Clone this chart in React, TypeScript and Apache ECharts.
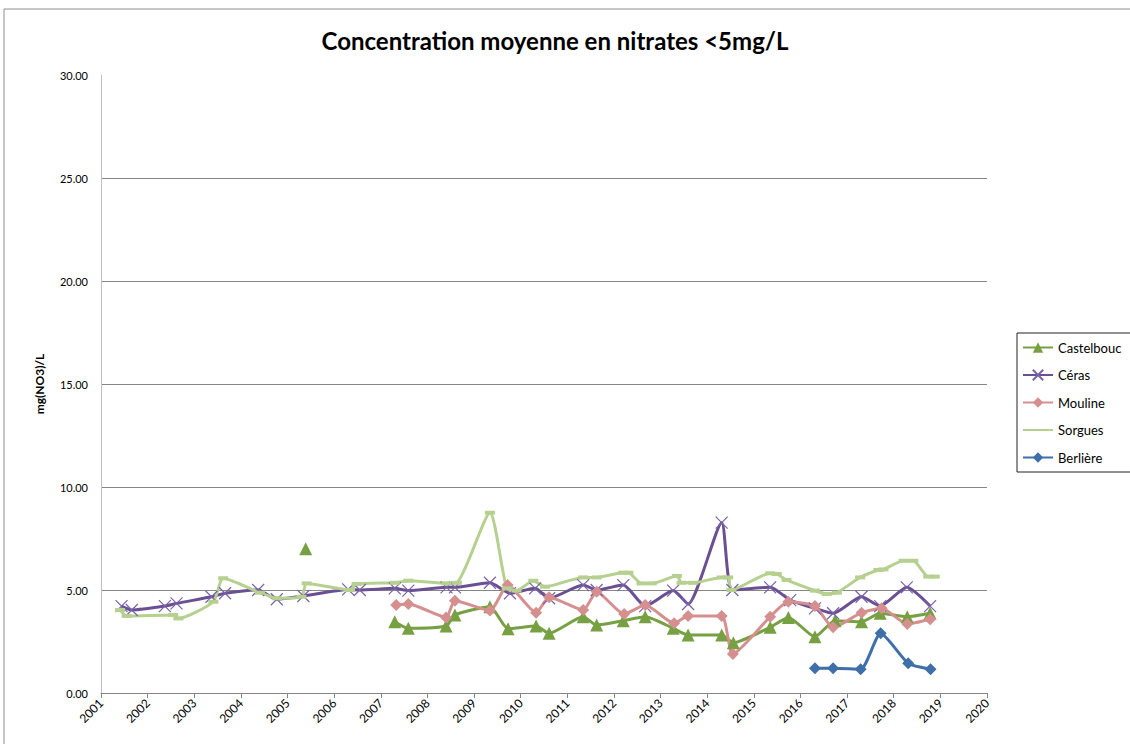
import React, { useEffect, useRef } from "react";
import * as echarts from "echarts";

const title = "Concentration moyenne en nitrates <5mg/L";
const yAxisName = "mg(NO3)/L";
const yTicks = [0, 5, 10, 15, 20, 25, 30];

const castelboucDates = [2005.39, 2006.3, 2007.3, 2007.59, 2008.4, 2008.59, 2009.34, 2009.73, 2010.33, 2010.61, 2011.34, 2011.63, 2012.2, 2012.67, 2013.27, 2013.59, 2014.31, 2014.56, 2015.35, 2015.74, 2016.31, 2016.74, 2017.31, 2017.71, 2018.29, 2018.78];
const castelboucValues = [7.0, null, 3.46, 3.14, 3.25, 3.79, 4.19, 3.12, 3.25, 2.9, 3.7, 3.3, 3.51, 3.7, 3.14, 2.82, 2.82, 2.44, 3.19, 3.67, 2.73, 3.51, 3.46, 3.87, 3.7, 3.87];

const cerasDates = [2001.44, 2001.66, 2002.37, 2002.62, 2003.37, 2003.66, 2004.37, 2004.77, 2005.34, 2006.3, 2006.55, 2007.3, 2007.59, 2008.41, 2008.59, 2009.34, 2009.77, 2010.31, 2010.61, 2011.34, 2011.63, 2012.2, 2012.67, 2013.27, 2013.59, 2014.31, 2014.54, 2015.35, 2015.78, 2016.31, 2016.7, 2017.31, 2017.71, 2018.28, 2018.78];
const cerasValues = [4.22, 4.03, 4.22, 4.35, 4.67, 4.84, 5.0, 4.55, 4.71, 5.03, 5.0, 5.08, 4.97, 5.13, 5.13, 5.35, 4.84, 5.08, 4.6, 5.24, 5.0, 5.24, 4.22, 4.97, 4.32, 8.27, 5.0, 5.13, 4.51, 4.11, 3.87, 4.67, 4.22, 5.13, 4.22];

const moulineDates = [2007.33, 2007.59, 2008.4, 2008.59, 2009.34, 2009.72, 2010.33, 2010.61, 2011.34, 2011.63, 2012.22, 2012.67, 2013.29, 2013.59, 2014.31, 2014.55, 2015.35, 2015.74, 2016.31, 2016.7, 2017.31, 2017.74, 2018.29, 2018.78];
const moulineValues = [4.27, 4.32, 3.67, 4.48, 4.0, 5.24, 3.9, 4.65, 4.03, 4.92, 3.83, 4.27, 3.38, 3.74, 3.74, 1.89, 3.7, 4.43, 4.22, 3.19, 3.9, 4.11, 3.35, 3.58];

const sorguesDates = [2001.41, 2001.55, 2002.55, 2002.66, 2003.41, 2003.62, 2004.41, 2004.77, 2005.3, 2005.41, 2006.34, 2006.48, 2007.3, 2007.59, 2008.41, 2008.63, 2009.34, 2009.7, 2009.91, 2010.27, 2010.52, 2011.34, 2011.63, 2012.2, 2012.31, 2012.59, 2012.81, 2013.35, 2013.45, 2013.7, 2014.31, 2014.45, 2014.52, 2015.35, 2015.49, 2015.7, 2016.31, 2016.56, 2016.78, 2017.28, 2017.67, 2017.78, 2018.21, 2018.42, 2018.74, 2018.88];
const sorguesValues = [4.03, 3.74, 3.79, 3.62, 4.43, 5.57, 4.87, 4.6, 4.67, 5.32, 5.0, 5.29, 5.35, 5.45, 5.32, 5.35, 8.75, 5.08, 4.97, 5.45, 5.16, 5.61, 5.61, 5.84, 5.84, 5.32, 5.32, 5.68, 5.35, 5.35, 5.61, 5.61, 5.0, 5.81, 5.78, 5.49, 4.97, 4.81, 4.87, 5.61, 5.97, 6.0, 6.42, 6.42, 5.65, 5.65];

const berliereDates = [2016.31, 2016.7, 2017.29, 2017.72, 2018.31, 2018.79];
const berliereValues = [1.2, 1.2, 1.15, 2.9, 1.44, 1.15];

const pair = (d: number[], v: (number | null)[]) => d.map((x, i) => [x, v[i] === null ? "-" : v[i]]);

const FONT = "Lato, 'Open Sans', sans-serif";

export default function App() {
  const ref = useRef<HTMLDivElement>(null);
  useEffect(() => {
    document.body.style.margin = "0";
    const chart = echarts.init(ref.current!, null, { renderer: "svg" });
    const smooth = 0.2;
    chart.setOption({
      animation: false,
      backgroundColor: "#fff",
      textStyle: { fontFamily: FONT },
      title: {
        text: title,
        left: 550,
        textAlign: "center",
        top: 23,
        textStyle: { fontFamily: FONT, fontSize: 24, fontWeight: "bold", color: "#000" },
      },
      graphic: [
        {
          type: "rect",
          shape: { x: 4, y: 9, width: 1200, height: 800 },
          style: { fill: "none", stroke: "#8c8c8c", lineWidth: 1 },
          silent: true,
        },
      ],
      legend: {
        orient: "vertical",
        left: 1017,
        top: 333,
        itemWidth: 30,
        itemHeight: 13,
        itemGap: 14.5,
        padding: [8, 40, 8, 5],
        borderColor: "#222",
        borderWidth: 1,
        textStyle: { fontFamily: FONT, fontSize: 13, color: "#000" },
        data: [
          "Castelbouc",
          "Céras",
          "Mouline",
          { name: "Sorgues", itemStyle: { opacity: 0 } },
          "Berlière",
        ],
      },
      grid: { left: 101, right: 143, top: 75, bottom: 51 },
      xAxis: {
        type: "value",
        min: 2001,
        max: 2020,
        interval: 1,
        axisLine: { show: true, lineStyle: { color: "#868686", width: 1 } },
        axisTick: { show: true, length: 5, lineStyle: { color: "#868686" } },
        splitLine: { show: false },
        axisLabel: {
          rotate: 45,
          fontSize: 12,
          color: "#000",
          fontFamily: FONT,
          margin: 8,
          formatter: (v: number) => String(Math.round(v)),
        },
      },
      yAxis: {
        type: "value",
        min: yTicks[0],
        max: yTicks[yTicks.length - 1],
        interval: 5,
        name: yAxisName,
        nameLocation: "middle",
        nameRotate: 90,
        nameGap: 56,
        nameTextStyle: { fontFamily: FONT, fontSize: 12, fontWeight: "bold", color: "#000" },
        axisLine: { show: true, lineStyle: { color: "#bfbfbf", width: 1 } },
        axisTick: { show: false },
        splitLine: {
          show: true,
          lineStyle: {
            color: yTicks.map((t, i) => (i === yTicks.length - 1 ? "rgba(0,0,0,0)" : "#868686")),
            width: 1,
          },
        },
        axisLabel: {
          fontSize: 11,
          color: "#000",
          fontFamily: FONT,
          margin: 13,
          formatter: (v: number) => v.toFixed(2),
        },
      },
      series: [
        {
          name: "Castelbouc",
          type: "line",
          smooth,
          data: pair(castelboucDates, castelboucValues),
          symbol: "triangle",
          symbolSize: 13,
          lineStyle: { color: "#77a043", width: 3 },
          itemStyle: { color: "#77a043" },
        },
        {
          name: "Céras",
          type: "line",
          smooth,
          data: pair(cerasDates, cerasValues),
          symbol: "path://M0 0L10 10M10 0L0 10",
          symbolSize: 12,
          lineStyle: { color: "#6a4f93", width: 3 },
          itemStyle: { color: "#7a62a8", borderColor: "#7a62a8", borderWidth: 1.2 },
        },
        {
          name: "Mouline",
          type: "line",
          smooth,
          data: pair(moulineDates, moulineValues),
          symbol: "diamond",
          symbolSize: 12,
          lineStyle: { color: "#d68f8f", width: 3 },
          itemStyle: { color: "#d68f8f" },
        },
        {
          name: "Sorgues",
          type: "line",
          smooth,
          data: pair(sorguesDates, sorguesValues),
          symbol: "rect",
          symbolSize: [10, 4],
          lineStyle: { color: "#b5d08f", width: 3 },
          itemStyle: { color: "#b5d08f" },
        },
        {
          name: "Berlière",
          type: "line",
          smooth,
          data: pair(berliereDates, berliereValues),
          symbol: "diamond",
          symbolSize: 12,
          lineStyle: { color: "#3f6fa8", width: 3 },
          itemStyle: { color: "#3f6fa8" },
        },
      ],
    });
    return () => chart.dispose();
  }, []);
  return <div ref={ref} style={{ width: 1130, height: 744 }} />;
}
